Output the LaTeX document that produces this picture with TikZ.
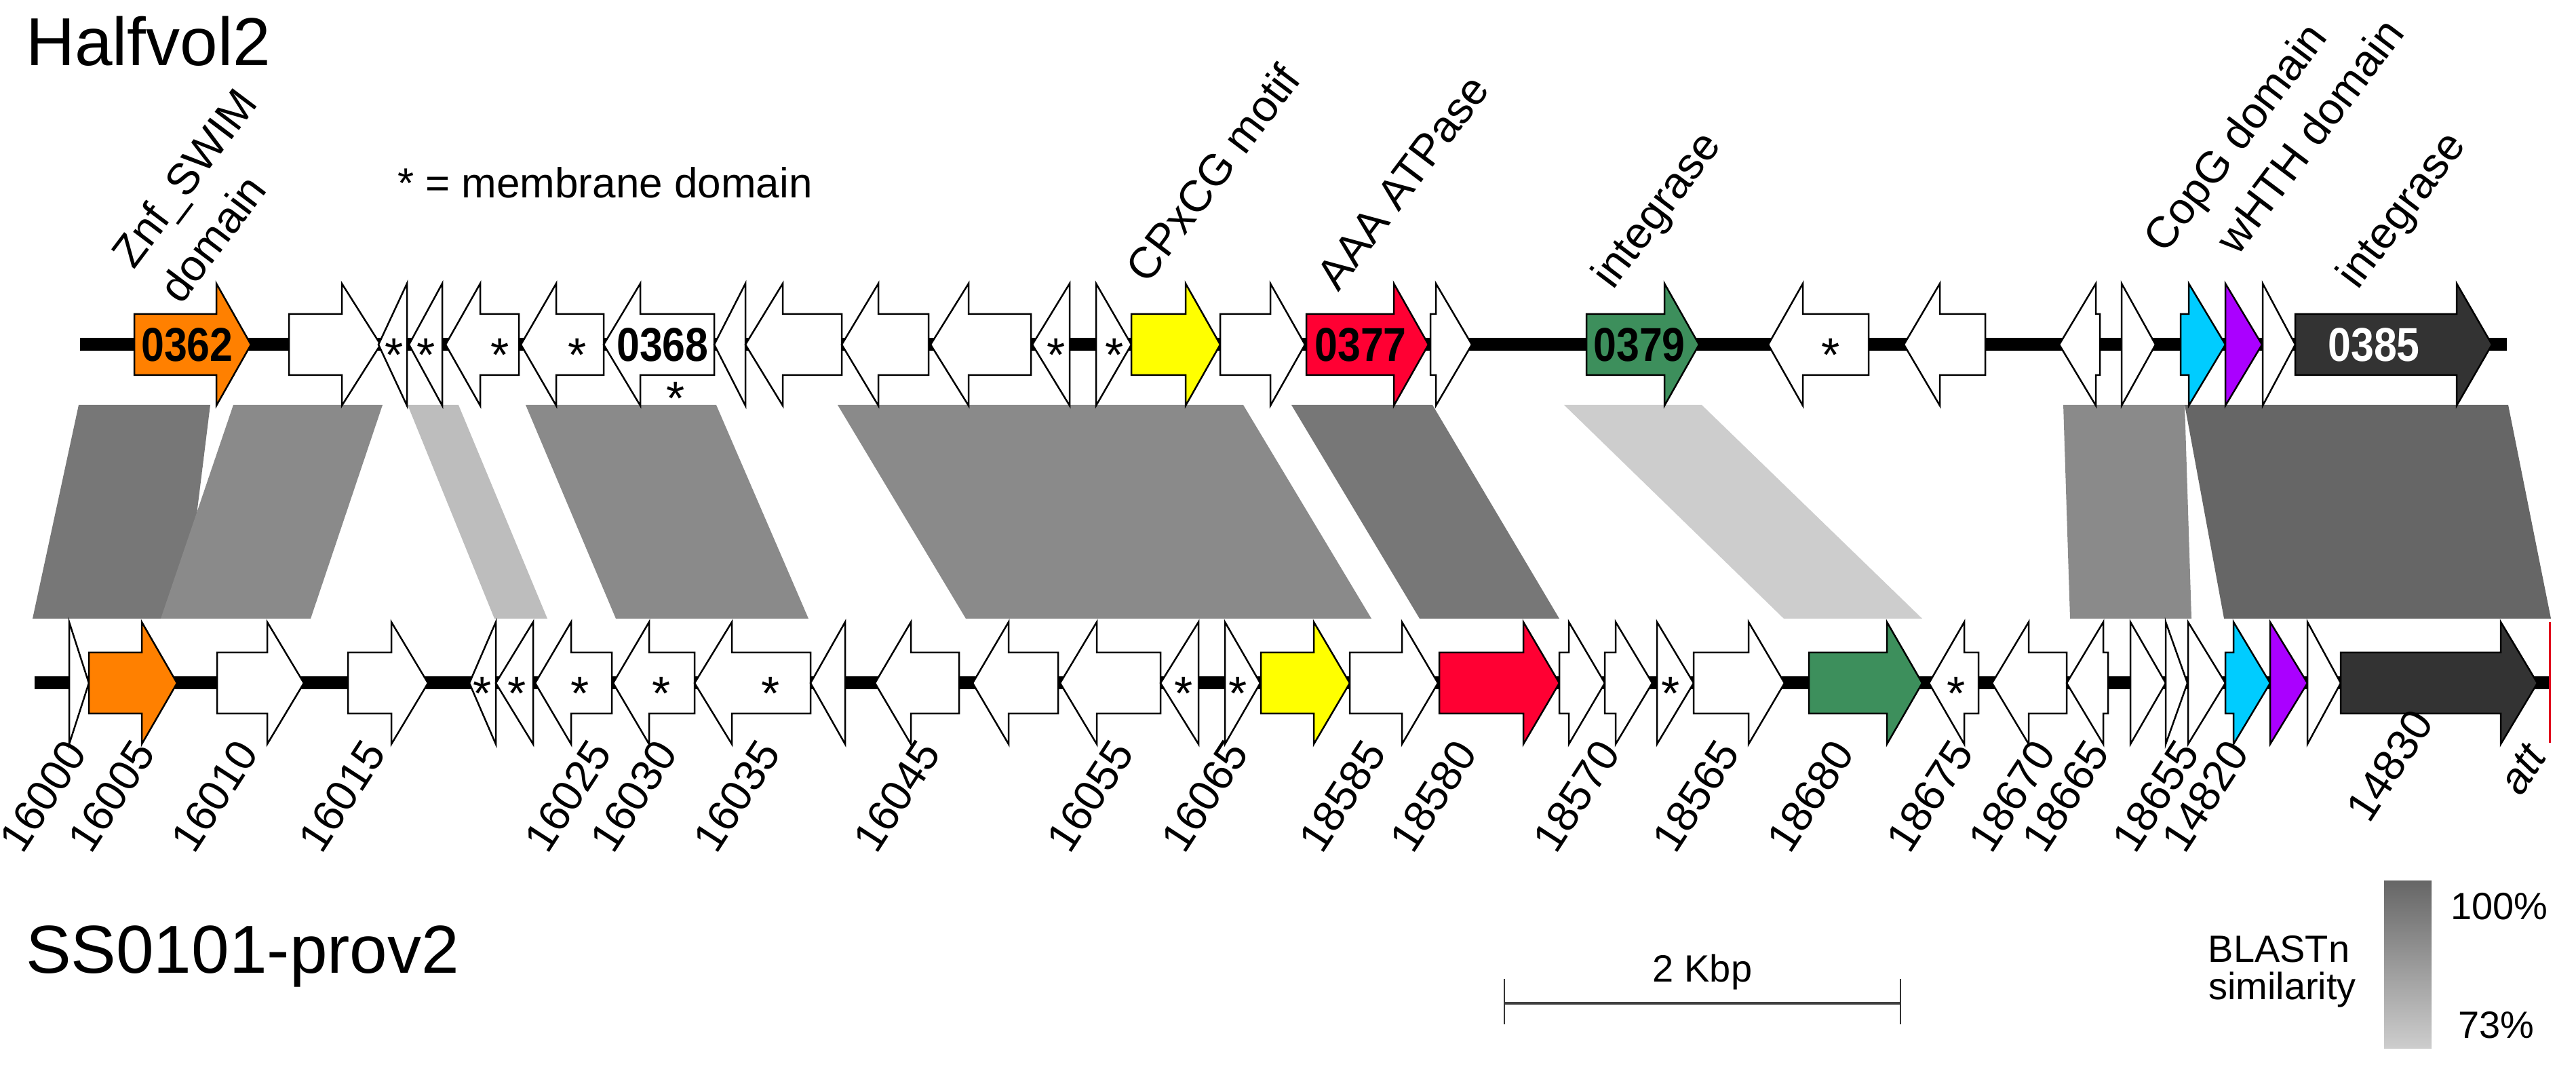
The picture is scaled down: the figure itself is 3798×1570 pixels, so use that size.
\documentclass[tikz,border=0pt]{standalone}
\usepackage{fontspec}
\setmainfont{Liberation Sans}
\newfontfamily\narrowsans[FakeStretch=0.87]{Liberation Sans}
\definecolor{gorange}{HTML}{FF8000}
\definecolor{gyellow}{HTML}{FFFF00}
\definecolor{gred}{HTML}{FF0033}
\definecolor{ggreen}{HTML}{3D8F5C}
\definecolor{gcyan}{HTML}{00CCFF}
\definecolor{gpurple}{HTML}{AA00FF}
\definecolor{gblack}{HTML}{333333}
\definecolor{bandA}{HTML}{777777}
\definecolor{bandB}{HTML}{8A8A8A}
\definecolor{bandC}{HTML}{BDBDBD}
\definecolor{bandD}{HTML}{CDCDCD}
\definecolor{bandE}{HTML}{666666}
\definecolor{attred}{HTML}{E0001B}
% forward gene: y, left, headbase, tip, fill
\newcommand\fgene[5]{\filldraw[genebox,fill=#5] (#2,#1-45) -- (#3,#1-45) -- (#3,#1-90) -- (#4,#1) -- (#3,#1+90) -- (#3,#1+45) -- (#2,#1+45) -- cycle;}
% forward triangle: y, base, tip, fill
\newcommand\ftri[4]{\filldraw[genebox,fill=#4] (#2,#1-90) -- (#3,#1) -- (#2,#1+90) -- cycle;}
% reverse gene: y, tip, headbase, right, fill
\newcommand\rgene[5]{\filldraw[genebox,fill=#5] (#4,#1-45) -- (#3,#1-45) -- (#3,#1-90) -- (#2,#1) -- (#3,#1+90) -- (#3,#1+45) -- (#4,#1+45) -- cycle;}
% reverse triangle: y, tip, base, fill
\newcommand\rtri[4]{\filldraw[genebox,fill=#4] (#3,#1-90) -- (#2,#1) -- (#3,#1+90) -- cycle;}
% membrane star: name, x, y
\newcommand\mstar[3]{\node[starmark] (#1) at (#2,#3+15) {*};}
% band: top-left, top-right, bottom-right, bottom-left, colour
\newcommand\band[5]{\fill[#5] (#1,597) -- (#2,597) -- (#3,912) -- (#4,912) -- cycle;}
\begin{document}
\begin{tikzpicture}[x=0.1pt,y=-0.1pt,
  genebox/.style={draw=black,line width=0.25pt,line join=miter},
  backbone/.style={draw=black,line width=1.9pt},
  starmark/.style={font=\fontsize{7}{8}\selectfont,inner sep=0pt,anchor=center},
  genelabel/.style={font=\narrowsans\bfseries\fontsize{7}{8}\selectfont,inner sep=0pt,anchor=center},
  toplabel/.style={font=\fontsize{6.5}{7.5}\selectfont,rotate=53,anchor=base west,inner sep=0pt},
  numlabel/.style={font=\fontsize{6.4}{7.4}\selectfont,rotate=57,anchor=base west,inner sep=0pt},
  title/.style={font=\fontsize{10}{12}\selectfont,anchor=base west,inner sep=0pt},
  legendtext/.style={font=\fontsize{5.6}{6.8}\selectfont,inner sep=0pt}]
\def\ty{508}
\def\by{1007}
\fill[white] (0,0) rectangle (3798,1570);
\useasboundingbox (0,0) rectangle (3798,1570);

% ---------- BLASTn similarity bands ----------
\band{116}{310}{271}{48}{bandA}
\band{344}{564}{458}{237}{bandB}
\band{601}{676}{807}{729}{bandC}
\band{775}{1056}{1192}{908}{bandB}
\band{1235}{1833}{2022}{1424}{bandB}
\band{1904}{2112}{2299}{2093}{bandA}
\band{2306}{2509}{2834}{2630}{bandD}
\band{3042}{3221}{3231}{3052}{bandB}
\band{3221}{3698}{3761}{3279}{bandE}

% ---------- backbones ----------
\draw[backbone] (118,\ty) -- (3696,\ty);
\draw[backbone] (51,\by) -- (3760,\by);

% ---------- top row: Halfvol2 ----------
\fgene{\ty}{198}{319}{370}{gorange}
\fgene{\ty}{426}{504}{561}{white}
\rtri{\ty}{558}{600}{white}
\rtri{\ty}{603}{652}{white}
\rgene{\ty}{657}{708}{765}{white}
\rgene{\ty}{768}{820}{890}{white}
\rgene{\ty}{890}{944}{1053}{white}
\rtri{\ty}{1053}{1099}{white}
\rgene{\ty}{1099}{1154}{1241}{white}
\rgene{\ty}{1241}{1295}{1369}{white}
\rgene{\ty}{1372}{1428}{1520}{white}
\rtri{\ty}{1522}{1577}{white}
\ftri{\ty}{1616}{1668}{white}
\fgene{\ty}{1668}{1748}{1799}{gyellow}
\fgene{\ty}{1799}{1873}{1924}{white}
\fgene{\ty}{1926}{2055}{2106}{gred}
\fgene{\ty}{2109}{2117}{2170}{white}
\fgene{\ty}{2339}{2454}{2505}{ggreen}
\rgene{\ty}{2607}{2658}{2755}{white}
\rgene{\ty}{2807}{2860}{2927}{white}
\rgene{\ty}{3036}{3090}{3096}{white}
\ftri{\ty}{3128}{3178}{white}
\fgene{\ty}{3215}{3227}{3281}{gcyan}
\ftri{\ty}{3281}{3335}{gpurple}
\ftri{\ty}{3336}{3384}{white}
\fgene{\ty}{3384}{3622}{3674}{gblack}

\mstar{st1}{581}{\ty}
\mstar{st2}{628}{\ty}
\mstar{st3}{737}{\ty}
\mstar{st4}{851}{\ty}
\mstar{st5}{996}{572}
\mstar{st6}{1557}{\ty}
\mstar{st7}{1643}{\ty}
\mstar{st8}{2699}{\ty}

\node[genelabel] (g0362) at (276,\ty) {0362};
\node[genelabel] (g0368) at (977,\ty) {0368};
\node[genelabel] (g0377) at (2006,\ty) {0377};
\node[genelabel] (g0379) at (2417,\ty) {0379};
\node[genelabel,text=white] (g0385) at (3500,\ty) {0385};

% ---------- bottom row: SS0101-prov2 ----------
\ftri{\by}{102}{131}{white}
\fgene{\by}{131}{209}{261}{gorange}
\fgene{\by}{320}{394}{448}{white}
\fgene{\by}{513}{577}{631}{white}
\rtri{\by}{692}{731}{white}
\rtri{\by}{731}{786}{white}
\rgene{\by}{789}{842}{902}{white}
\rgene{\by}{904}{957}{1024}{white}
\rgene{\by}{1024}{1079}{1195}{white}
\rtri{\by}{1195}{1246}{white}
\rgene{\by}{1290}{1343}{1414}{white}
\rgene{\by}{1434}{1487}{1560}{white}
\rgene{\by}{1563}{1617}{1711}{white}
\rtri{\by}{1711}{1767}{white}
\ftri{\by}{1806}{1858}{white}
\fgene{\by}{1859}{1937}{1990}{gyellow}
\fgene{\by}{1990}{2067}{2120}{white}
\fgene{\by}{2122}{2246}{2299}{gred}
\fgene{\by}{2299}{2313}{2366}{white}
\fgene{\by}{2366}{2382}{2436}{white}
\ftri{\by}{2443}{2497}{white}
\fgene{\by}{2497}{2578}{2631}{white}
\fgene{\by}{2667}{2782}{2834}{ggreen}
\rgene{\by}{2844}{2896}{2917}{white}
\rgene{\by}{2937}{2991}{3047}{white}
\rgene{\by}{3047}{3101}{3108}{white}
\ftri{\by}{3141}{3193}{white}
\ftri{\by}{3193}{3225}{white}
\ftri{\by}{3226}{3281}{white}
\fgene{\by}{3281}{3293}{3347}{gcyan}
\ftri{\by}{3347}{3402}{gpurple}
\ftri{\by}{3402}{3451}{white}
\fgene{\by}{3451}{3687}{3741}{gblack}
\coordinate (atttop) at (3759,917);
\coordinate (attbot) at (3759,1095);
\draw[attred,line width=0.3pt] (atttop) -- (attbot);

\mstar{sb1}{711}{\by}
\mstar{sb2}{762}{\by}
\mstar{sb3}{855}{\by}
\mstar{sb4}{975}{\by}
\mstar{sb5}{1136}{\by}
\mstar{sb6}{1745}{\by}
\mstar{sb7}{1825}{\by}
\mstar{sb8}{2463}{\by}
\mstar{sb9}{2884}{\by}

% ---------- annotation labels (top) ----------
\node[toplabel] (lznf) at (196,400) {Znf\_SWIM};
\node[toplabel] (ldom) at (266,452) {domain};
\node[toplabel] (lcpx) at (1691,422) {CPxCG motif};
\node[toplabel] (laaa) at (1972,433) {AAA ATPase};
\node[toplabel] (lint1) at (2377,430) {integrase};
\node[toplabel] (lcopg) at (3191,377) {CopG domain};
\node[toplabel] (lwhth) at (3298,380) {wHTH domain};
\node[toplabel] (lint2) at (3475,430) {integrase};

% ---------- locus tags (bottom) ----------
\node[numlabel] (n16000) at (32,1262) {16000};
\node[numlabel] (n16005) at (133,1262) {16005};
\node[numlabel] (n16010) at (285,1262) {16010};
\node[numlabel] (n16015) at (473,1262) {16015};
\node[numlabel] (n16025) at (806,1262) {16025};
\node[numlabel] (n16030) at (903,1262) {16030};
\node[numlabel] (n16035) at (1055,1262) {16035};
\node[numlabel] (n16045) at (1291,1262) {16045};
\node[numlabel] (n16055) at (1576,1262) {16055};
\node[numlabel] (n16065) at (1745,1262) {16065};
\node[numlabel] (n18585) at (1948,1262) {18585};
\node[numlabel] (n18580) at (2082,1262) {18580};
\node[numlabel] (n18570) at (2293,1262) {18570};
\node[numlabel] (n18565) at (2469,1262) {18565};
\node[numlabel] (n18680) at (2638,1262) {18680};
\node[numlabel] (n18675) at (2814,1262) {18675};
\node[numlabel] (n18670) at (2935,1262) {18670};
\node[numlabel] (n18665) at (3014,1262) {18665};
\node[numlabel] (n18655) at (3147,1262) {18655};
\node[numlabel] (n14820) at (3220,1262) {14820};
\node[numlabel] (n14830) at (3492,1217) {14830};
\node[numlabel] (natt) at (3716,1177) {\itshape att};

% ---------- titles and legends ----------
\node[title] (thalf) at (36,97) {Halfvol2};
\node[title] (tss) at (36,1435) {SS0101-prov2};
\node[font=\fontsize{6.2}{7}\selectfont,anchor=base west,inner sep=0pt] (memb) at (584,292) {* = membrane domain};

\coordinate (sbl) at (2218,1479);
\coordinate (sbr) at (2802,1479);
\draw[line width=0.4pt,black!75] (sbl) -- (sbr);
\draw[line width=0.2pt,black!80] (2218,1443) -- (2218,1510);
\draw[line width=0.2pt,black!80] (2802,1443) -- (2802,1510);
\node[legendtext,anchor=base] (kbp) at (2510,1447) {2 Kbp};

\shade[top color=bandE,bottom color=bandD] (3515,1298) rectangle (3585,1545);
\node[legendtext,anchor=base west] (p100) at (3611,1355) {100\%};
\node[legendtext,anchor=base west] (p73) at (3622,1530) {73\%};
\node[legendtext,anchor=base] (blast) at (3360,1418) {BLASTn};
\node[legendtext,anchor=base] (simil) at (3365,1473) {similarity};
\end{tikzpicture}
\end{document}
